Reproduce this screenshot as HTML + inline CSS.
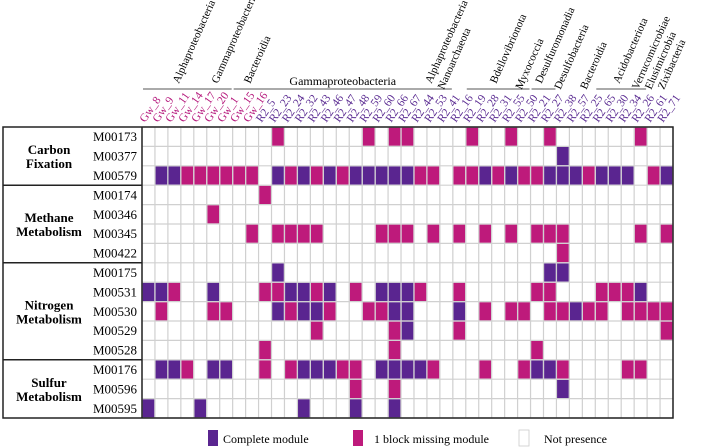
<!DOCTYPE html>
<html><head><meta charset="utf-8"><style>
body{margin:0;background:#fff;}
svg{display:block;font-family:"Liberation Serif",serif;}
</style></head><body>
<svg id="chart" width="708" height="447" viewBox="0 0 708 447" xmlns="http://www.w3.org/2000/svg">
<g id="hdr"></g>
<g id="grid"></g>
<g id="left"></g>
<g id="legend">
  <rect x="208" y="430" width="10" height="16" fill="#5a2590"/>
  <text x="223" y="443" font-size="12">Complete module</text>
  <rect x="353" y="430" width="10" height="16" fill="#be1a7b"/>
  <text x="374" y="443" font-size="12">1 block missing module</text>
  <rect x="519" y="430" width="10" height="16" fill="#fff" stroke="#ccc" stroke-width="0.8"/>
  <text x="544" y="443" font-size="12">Not presence</text>
</g>
</svg>
<script>
const columns=["Gw_8","Gw_9","Gw_11","Gw_14","Gw_17","Gw_20","Gw_1","Gw_15","Gw_16","R2_5","R2_23","R2_24","R2_32","R2_43","R2_46","R2_47","R2_48","R2_59","R2_60","R2_66","R2_67","R2_44","R2_53","R2_41","R2_16","R2_19","R2_28","R2_31","R2_55","R2_50","R2_21","R2_27","R2_38","R2_57","R2_25","R2_65","R2_30","R2_34","R2_26","R2_61","R2_71"];
const modules=["M00173","M00377","M00579","M00174","M00346","M00345","M00422","M00175","M00531","M00530","M00529","M00528","M00176","M00596","M00595"];
const groups=[["Carbon","Fixation",0,3],["Methane","Metabolism",3,7],["Nitrogen","Metabolism",7,12],["Sulfur","Metabolism",12,15]];
const taxa=[["Alphaproteobacteria",0,5,1],["Gammaproteobacteria",5,6,1],["Bacteroidia",7,9,1],["Gammaproteobacteria",9,21,0],["Alphaproteobacteria",21,23,1],["Nanoarchaeota",23,24,-1],["Bdellovibrionota",25,29,1],["Myxococcia",29,30,-1],["Desulfuromonadia",30,31,1],["Desulfobacteria",32,33,-1],["Bacteroidia",34,34,-1],["Acidobacteriota",35,38,1],["Verrucomicrobiae",38,38,-1],["Elusimicrobia",39,39,-1],["Zixibacteria",40,40,-1]];
// 0 = not present, 1 = complete module, 2 = 1 block missing
const m00173=[0,0,0,0,0,0,0,0,0,0,2,0,0,0,0,0,0,2,0,2,2,0,0,0,0,2,0,0,2,0,0,2,0,0,0,0,0,0,2,0,0];
const m00377=[0,0,0,0,0,0,0,0,0,0,0,0,0,0,0,0,0,0,0,0,0,0,0,0,0,0,0,0,0,0,0,0,1,0,0,0,0,0,0,0,0];
const m00579=[0,1,1,2,2,2,2,2,2,0,1,2,1,2,1,2,1,1,1,1,1,2,2,0,2,2,1,2,1,2,2,1,1,1,2,1,1,1,0,2,1];
const m00174=[0,0,0,0,0,0,0,0,0,2,0,0,0,0,0,0,0,0,0,0,0,0,0,0,0,0,0,0,0,0,0,0,0,0,0,0,0,0,0,0,0];
const m00346=[0,0,0,0,0,2,0,0,0,0,0,0,0,0,0,0,0,0,0,0,0,0,0,0,0,0,0,0,0,0,0,0,0,0,0,0,0,0,0,0,0];
const m00345=[0,0,0,0,0,0,0,0,2,0,2,2,2,2,0,0,0,0,2,2,2,0,2,0,2,0,2,0,2,0,2,2,2,0,0,0,0,0,2,0,2];
const m00422=[0,0,0,0,0,0,0,0,0,0,0,0,0,0,0,0,0,0,0,0,0,0,0,0,0,0,0,0,0,0,0,0,2,0,0,0,0,0,0,0,0];
const m00175=[0,0,0,0,0,0,0,0,0,0,1,0,0,0,0,0,0,0,0,0,0,0,0,0,0,0,0,0,0,0,0,1,1,0,0,0,0,0,0,0,0];
const m00531=[1,1,2,0,0,1,0,0,0,2,2,1,1,2,1,0,2,0,1,1,1,2,0,0,2,0,0,0,0,0,2,2,0,0,0,2,2,2,1,0,0];
const m00530=[0,2,0,0,0,2,2,0,0,0,1,2,1,1,2,0,0,2,2,1,1,0,0,0,1,0,2,0,2,2,0,2,2,1,2,2,0,2,2,2,2];
const m00529=[0,0,0,0,0,0,0,0,0,0,0,0,0,2,0,0,0,0,0,2,1,0,0,0,2,0,0,0,0,0,0,0,0,0,0,0,0,0,0,0,2];
const m00528=[0,0,0,0,0,0,0,0,0,2,0,0,0,0,0,0,0,0,0,2,0,0,0,0,0,0,0,0,0,0,2,0,0,0,0,0,0,0,0,0,0];
const m00176=[0,1,1,2,0,1,1,0,0,2,0,2,1,1,1,2,2,0,1,1,1,1,2,0,0,0,2,0,0,2,1,1,2,0,0,0,0,2,2,0,0];
const m00596=[0,0,0,0,0,0,0,0,0,0,0,0,0,0,0,0,2,0,0,2,0,0,0,0,0,0,0,0,0,0,0,0,1,0,0,0,0,0,0,0,0];
const m00595=[1,0,0,0,1,0,0,0,0,0,0,0,1,0,0,0,1,0,0,1,0,0,0,0,0,0,0,0,0,0,0,0,0,0,0,0,0,0,0,0,0];
const matrix=[m00173,m00377,m00579,m00174,m00346,m00345,m00422,m00175,m00531,m00530,m00529,m00528,m00176,m00596,m00595];

const NS="http://www.w3.org/2000/svg";
const X0=142,X1=673,Y0=127,Y1=418,LX=3;
const cw=(X1-X0)/columns.length, rh=(Y1-Y0)/modules.length;
const xPos=i=>X0+i*cw, yPos=j=>Y0+j*rh;
const colors={1:"#5a2590",2:"#be1a7b"};
function mk(tag,attrs,parent){const e=document.createElementNS(NS,tag);for(const k in attrs)e.setAttribute(k,attrs[k]);parent.appendChild(e);return e;}
const grid=document.getElementById('grid'),left=document.getElementById('left'),hdr=document.getElementById('hdr');

// cells
matrix.forEach((row,j)=>{row.forEach((v,i)=>{
  const r=mk('rect',{x:xPos(i)+0.6,y:yPos(j)+0.6,width:cw-1.2,height:rh-1.2,fill:v?colors[v]:"#fff"},grid);
  
  
});});
// grid lines
for(let i=0;i<=columns.length;i++){const l=mk('line',{x1:xPos(i),x2:xPos(i),y1:Y0,y2:Y1,stroke:"#d0d0d0","stroke-width":1.2},grid);
  }
for(let j=0;j<=modules.length;j++){const l=mk('line',{x1:X0,x2:X1,y1:yPos(j),y2:yPos(j),stroke:"#d0d0d0","stroke-width":1.2},grid);
  }
// borders
const bd=mk('rect',{x:LX,y:Y0,width:X1-LX,height:Y1-Y0,fill:"none",stroke:"#222","stroke-width":1.5},left);

const vl=mk('line',{x1:X0,x2:X0,y1:Y0,y2:Y1,stroke:"#222","stroke-width":1.5},left);

groups.forEach(g=>{
  if(g[2]>0){const s=mk('line',{x1:LX,x2:X0,y1:yPos(g[2]),y2:yPos(g[2]),stroke:"#222","stroke-width":1.5},left);
    }
  const cy=(yPos(g[2])+yPos(g[3]))/2;
  const t=mk('text',{x:49,y:cy-2,"text-anchor":"middle","font-size":13,"font-weight":"bold"},left);
  
  mk('tspan',{x:49,dy:0},t).textContent=g[0];
  mk('tspan',{x:49,dy:14},t).textContent=g[1];
});
modules.forEach((m,j)=>{const t=mk('text',{x:137,y:yPos(j)+rh/2+4.5,"text-anchor":"end","font-size":13},left);
  t.textContent=m;});
// column labels
columns.forEach((c,i)=>{const x=xPos(i)+3,y=123;
  const t=mk('text',{x:x,y:y,"font-size":11.5,fill:c.startsWith('Gw')?"#b5187c":"#5b2c92",transform:`rotate(-55 ${x} ${y})`},hdr);
  t.textContent=c;});
// taxa
taxa.forEach(t=>{
  const xa=xPos(t[1])+1,xb=xPos(t[2]+1)-1;
  if(t[3]>=0){const l=mk('line',{x1:xa,x2:xb,y1:89,y2:89,stroke:"#555","stroke-width":1},hdr);
    }
  let e;
  if(t[3]===0){e=mk('text',{x:(xa+xb)/2,y:85,"text-anchor":"middle","font-size":12},hdr);}
  else{const x=t[3]===1?(xa+xb)/2-2:xPos(t[1])+4,y=t[3]===1?84:90;
    e=mk('text',{x:x,y:y,"font-size":11,transform:`rotate(-66 ${x} ${y})`},hdr);}
  e.textContent=t[0];
});
</script>
</body></html>
